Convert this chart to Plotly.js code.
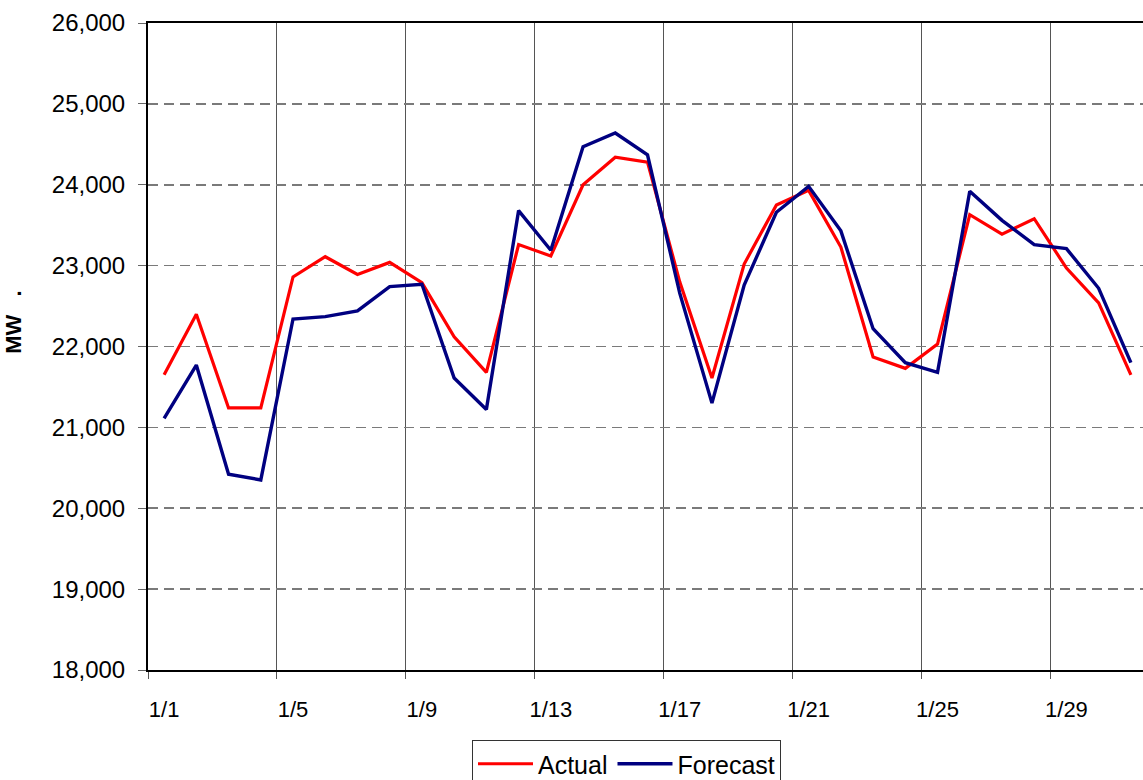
<!DOCTYPE html>
<html>
<head>
<meta charset="utf-8">
<script src="https://cdn.plot.ly/plotly-3.0.1.min.js"></script>
<style>
  html, body { margin: 0; padding: 0; background: #fff; overflow: hidden; }
  #chart { width: 1147px; height: 780px; }
</style>
</head>
<body>
<div id="chart"></div>
<script>
// Category labels (days of January)
const categories = ['1/1','1/2','1/3','1/4','1/5','1/6','1/7','1/8','1/9','1/10',
  '1/11','1/12','1/13','1/14','1/15','1/16','1/17','1/18','1/19','1/20',
  '1/21','1/22','1/23','1/24','1/25','1/26','1/27','1/28','1/29','1/30','1/31'];

// Actual load (MW)
const actual = [21650, 22400, 21240, 21240, 22860, 23110, 22890, 23040, 22790, 22120,
  21680, 23260, 23120, 24000, 24340, 24280, 22800, 21610, 23020, 23750,
  23930, 23230, 21870, 21730, 22030, 23630, 23390, 23580, 22970, 22540, 21650];

// Forecast load (MW)
const forecast = [21110, 21770, 20420, 20350, 22340, 22370, 22440, 22740, 22770, 21610,
  21220, 23680, 23190, 24470, 24640, 24370, 22660, 21300, 22760, 23660,
  23980, 23430, 22220, 21800, 21680, 23920, 23560, 23260, 23210, 22720, 21800];

// Tick labels shown on the x axis
const tickLabels = ['1/1','1/5','1/9','1/13','1/17','1/21','1/25','1/29'];

const xPos = categories.map((c, i) => i + 1);
const tickVals = tickLabels.map(t => categories.indexOf(t) + 1);

const FONT = 'Liberation Sans, Arial, sans-serif';
const NB = '\u00a0';

const traces = [
  { x: xPos, y: actual, name: 'Actual', type: 'scatter', mode: 'lines',
    line: { color: '#FF0000', width: 3.2 }, hoverinfo: 'skip' },
  { x: xPos, y: forecast, name: 'Forecast', type: 'scatter', mode: 'lines',
    line: { color: '#000080', width: 3.4 }, hoverinfo: 'skip' }
];

const layout = {
  width: 1147, height: 780,
  margin: { l: 148, r: 0, t: 23, b: 110 },
  paper_bgcolor: '#ffffff', plot_bgcolor: '#ffffff',
  font: { family: FONT, color: '#000', size: 22 },
  showlegend: true,
  legend: {
    orientation: 'h', xref: 'container', yref: 'container',
    x: 472 / 1147, xanchor: 'left', y: 40 / 780, yanchor: 'top',
    bordercolor: '#333', borderwidth: 1, bgcolor: '#fff',
    font: { family: FONT, size: 25, color: '#000' },
    itemwidth: 55, tracegroupgap: 0
  },
  xaxis: {
    range: [0.5, 31.5], tickmode: 'array', tickvals: tickVals, ticktext: tickLabels,
    ticks: '', showgrid: false, zeroline: false,
    showline: true, linecolor: '#000', linewidth: 2, mirror: true,
    tickfont: { family: FONT, size: 22, color: '#000' },
    ticklabelstandoff: 19,
    minor: { tick0: 0.5, dtick: 4, ticks: 'outside', ticklen: 7, tickcolor: '#555',
             showgrid: true, gridcolor: '#555', gridwidth: 1 }
  },
  yaxis: {
    range: [18000, 26000], tickmode: 'linear', tick0: 18000, dtick: 1000,
    tickformat: ',d', ticks: 'outside', ticklen: 8, tickcolor: '#666', tickwidth: 1,
    showgrid: true, gridcolor: '#7a7a7a', gridwidth: 1.6, griddash: '10px,6px',
    zeroline: false, showline: true, linecolor: '#000', linewidth: 2, mirror: true,
    tickfont: { family: FONT, size: 24, color: '#000' },
    ticklabelstandoff: 8,
    title: { text: '\u200b' + NB.repeat(8) + 'MW' + NB.repeat(3) + '.',
             font: { family: FONT, size: 22, color: '#000', weight: 700 }, standoff: 24 }
  }
};

Plotly.newPlot('chart', traces, layout, { displayModeBar: false, staticPlot: true });
</script>
</body>
</html>
